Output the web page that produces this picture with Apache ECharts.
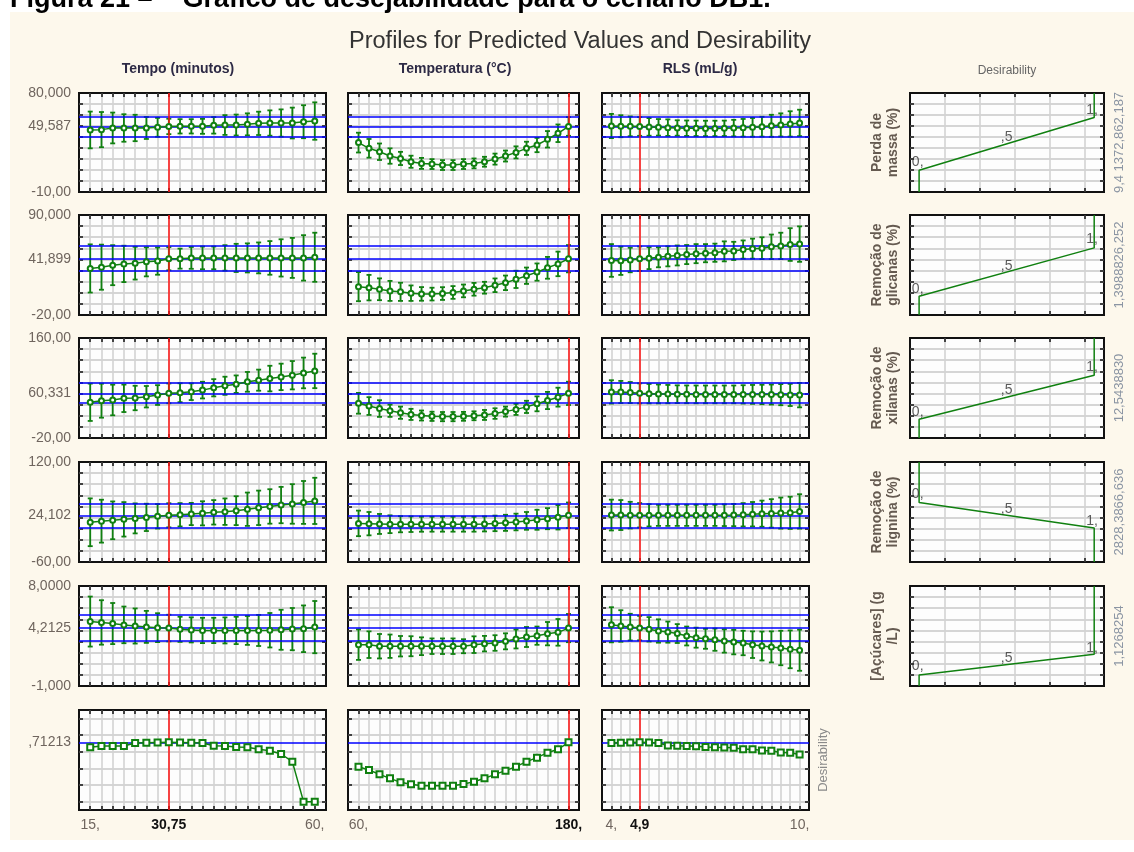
<!DOCTYPE html>
<html>
<head>
<meta charset="utf-8">
<title>Profiles for Predicted Values and Desirability</title>
<script src="https://cdn.jsdelivr.net/npm/echarts@6.0.0/dist/echarts.min.js"></script>
<style>
html, body { margin: 0; padding: 0; background: #fff; }
#grafico { width: 1134px; height: 852px; }
</style>
</head>
<body>
<div id="grafico"></div>
<script>
//************************* dados ******************************//
// níveis dos fatores (eixo x de cada coluna)
var niveisTempo = [15, 17.25, 19.5, 21.75, 24, 26.25, 28.5, 30.75, 33, 35.25, 37.5, 39.75, 42, 44.25, 46.5, 48.75, 51, 53.25, 55.5, 57.75, 60];
var niveisTemp = [60, 66, 72, 78, 84, 90, 96, 102, 108, 114, 120, 126, 132, 138, 144, 150, 156, 162, 168, 174, 180];
var niveisRLS = [4, 4.3, 4.6, 4.9, 5.2, 5.5, 5.8, 6.1, 6.4, 6.7, 7, 7.3, 7.6, 7.9, 8.2, 8.5, 8.8, 9.1, 9.4, 9.7, 10];

var fatores = ['Tempo (minutos)', 'Temperatura (°C)', 'RLS (mL/g)'];
var fatorAtual = [30.75, 180, 4.9];
var valoresX = [[15, 30.75, 60], [60, 180], [4, 4.9, 10]];
var rotulosX = [['15,', '{b|30,75}', '60,'], ['60,', '{b|180,}'], ['4,', '{b|4,9}', '10,']];

// respostas (linhas)
var respostas = ['Perda de\nmassa (%)', 'Remoção de\nglicanas (%)', 'Remoção de\nxilanas (%)', 'Remoção de\nlignina (%)', '[Açúcares] (g\n/L)'];
var yMin = [-10, -20, -20, -60, -1, -0.1];
var yMax = [80, 90, 160, 120, 8, 1.1];
var valoresY = [[-10, 49.587, 80], [-20, 41.899, 90], [-20, 60.331, 160], [-60, 24.102, 120], [-1, 4.2125, 8], [0.71213]];
var rotulosY = [['-10,00', '49,587', '80,000'], ['-20,00', '41,899', '90,000'], ['-20,00', '60,331', '160,00'], ['-60,00', '24,102', '120,00'], ['-1,000', '4,2125', '8,0000'], [',71213']];
var linhasAzuis = [[40.3, 49.587, 58.5], [28.7, 41.899, 56.2], [44.3, 60.331, 79.9], [1.5, 24.102, 44.8], [3.08, 4.2125, 5.4], [0.71213]];
var ticksDesejLinha = [0, 0.2, 0.4, 0.6, 0.8, 1];

// Perda de massa
var perdaTempo = [46.4, 46.7, 48.2, 48.2, 48.2, 48.2, 48.8, 49.587, 49.7, 49.7, 49.7, 50.6, 50.9, 50.9, 51.5, 52.4, 52.7, 52.7, 52.7, 53.9, 54.5];
var perdaTempoErr = [16.7, 16, 14, 12.5, 12, 10, 8.6, 7, 6.5, 6.5, 6.8, 7.5, 9, 9.5, 10, 10.6, 11.5, 12.4, 14, 15, 17];
var perdaTemp = [34.9, 29.7, 26.6, 22.7, 20.5, 17.5, 16, 15.4, 14.5, 14.5, 15.4, 16, 17.5, 19.9, 22.7, 26, 29.7, 32.7, 37.9, 43.4, 49.587];
var perdaTempErr = [9, 8.5, 7.5, 7, 6, 5.5, 5, 4.5, 4.5, 4.5, 4.5, 4.5, 4.5, 5, 5, 5.5, 6, 6.5, 7.5, 8, 8.5];
var perdaRLS = [50, 49.8, 49.7, 49.587, 49.2, 48.8, 48.5, 48.2, 48, 47.9, 47.8, 47.8, 47.9, 48.1, 48.4, 48.8, 49.4, 50.2, 51, 51.9, 52.8];
var perdaRLSErr = [11, 10, 9, 8.5, 8, 7.5, 7.5, 7, 7, 7, 7, 7, 7, 7.5, 8, 8.5, 9, 10, 10.5, 11.5, 12];

// Remoção de glicanas
var glicTempo = [31.2, 32.6, 34.8, 36.2, 37, 38.5, 39.3, 41.899, 42, 42.8, 42.8, 42.8, 42.8, 42.8, 42.8, 42.8, 42.8, 42.8, 42.8, 42.8, 43.5];
var glicTempoErr = [26.5, 24.8, 22, 20, 18, 16, 15, 12.7, 11, 12, 12.5, 12.5, 14, 15.5, 16, 17, 18.5, 20.5, 22, 25, 27];
var glicTemp = [11.2, 10.1, 8.3, 6.5, 5.5, 4, 3.2, 3, 3.6, 4.8, 6.5, 8.3, 10, 12.7, 15.4, 19.2, 23.2, 27.2, 31.9, 36.2, 41.899];
var glicTempErr = [16, 14, 12, 11, 10, 8.5, 7.5, 7, 7, 7, 7, 7, 6.5, 7.5, 8, 9.5, 9, 9.5, 12, 13.5, 15];
var glicRLS = [40, 39.6, 40.5, 41.899, 42.5, 43.5, 44.5, 45.5, 46.5, 47.5, 48, 48.5, 50, 50.5, 52, 53, 53.5, 55, 56, 57.5, 58];
var glicRLSErr = [18, 15.5, 13.5, 13.5, 12, 11, 11, 11, 10.5, 10.5, 10, 10, 11, 10, 10, 11, 12, 13.5, 14.5, 18, 19.5];

// Remoção de xilanas
var xilTempo = [44.3, 47.2, 48.4, 51.4, 52, 54.3, 57.3, 60.331, 61.5, 63.3, 66.2, 70.4, 74, 76.9, 81.1, 84.1, 87, 90, 93, 97.1, 100.7];
var xilTempoErr = [33.6, 30.6, 27.6, 24.7, 22, 19.3, 17.8, 17.8, 17, 15, 15, 15.5, 16.3, 15.7, 17.8, 19, 23, 23.8, 25.5, 27.6, 31];
var xilTemp = [42.5, 37.5, 33, 29, 25.5, 22.5, 20.5, 19, 18.5, 18.5, 19, 20, 21.5, 24, 27.5, 31.5, 36, 41.5, 47.5, 53.5, 60.331];
var xilTempErr = [18.7, 16, 15, 11, 11, 10, 9, 8.3, 8.3, 8.3, 8, 8, 9, 9.5, 9, 10, 11, 13.4, 15.5, 17, 21];
var xilRLS = [63, 62.8, 61.8, 60.331, 59.8, 59.3, 59, 58.8, 58.6, 58.5, 58.5, 58.5, 58.5, 58.5, 58.5, 58.5, 58.3, 58.2, 58, 57.5, 57.2];
var xilRLSErr = [21, 20, 19, 18, 17.5, 17, 16.5, 16, 16, 16, 16, 16, 16, 16, 16.5, 17, 17.5, 18, 19, 20, 22];

// Remoção de lignina
var ligTempo = [11.5, 13.5, 15, 16.8, 18.5, 20.3, 22.2, 24.102, 25, 26.4, 27.6, 29.4, 30.6, 32.4, 35, 37.5, 40, 42.5, 44.5, 47.2, 50];
var ligTempoErr = [43, 38.6, 34, 31, 27, 24.6, 22, 21.7, 21, 20, 21.7, 22, 23.8, 26, 30, 31, 31, 32.7, 35.6, 38.6, 41.6];
var ligTemp = [9.5, 9, 8.5, 8, 8, 8, 8, 8, 8, 8, 8, 8, 8.5, 9.5, 10.5, 12, 14, 16, 18, 20.5, 24.102];
var ligTempErr = [23, 21, 18, 16, 14.5, 14, 13.5, 13.4, 13.4, 13.4, 13.4, 13.4, 13.5, 14, 14.5, 15, 16, 18, 19, 22, 23];
var ligRLS = [24.5, 24.5, 24.3, 24.102, 24, 24, 24, 24, 24, 24, 24, 24, 24.2, 24.5, 25, 26, 27, 27.5, 28, 28.5, 31];
var ligRLSErr = [27.7, 27, 24, 22, 20, 19, 19, 19, 19, 19, 19, 19, 19.5, 20, 21, 22, 23.5, 25.6, 28, 29, 31];

// [Açúcares]
var acuTempo = [4.8, 4.72, 4.62, 4.5, 4.4, 4.32, 4.25, 4.2125, 4.1, 4.05, 4, 4, 4, 4, 4, 4, 4.02, 4.06, 4.12, 4.15, 4.3];
var acuTempoErr = [2.25, 2, 1.85, 1.65, 1.58, 1.44, 1.3, 1.2, 1.13, 1.13, 1.14, 1.14, 1.17, 1.23, 1.3, 1.4, 1.55, 1.8, 1.9, 2.1, 2.35];
var acuTemp = [2.72, 2.72, 2.58, 2.58, 2.58, 2.58, 2.58, 2.58, 2.58, 2.58, 2.58, 2.72, 2.81, 2.87, 3.02, 3.23, 3.41, 3.53, 3.71, 3.83, 4.2125];
var acuTempErr = [1.37, 1.2, 1.1, 1.05, 0.92, 0.9, 0.8, 0.7, 0.7, 0.7, 0.63, 0.75, 0.7, 0.7, 0.72, 0.85, 0.9, 0.82, 1.05, 1.2, 1.27];
var acuRLS = [4.51, 4.4, 4.3, 4.2125, 4.1, 3.95, 3.85, 3.72, 3.5, 3.35, 3.25, 3.17, 3.05, 2.95, 2.87, 2.72, 2.6, 2.52, 2.42, 2.3, 2.22];
var acuRLSErr = [1.58, 1.42, 1.2, 1.1, 1.1, 1.05, 0.95, 0.85, 0.85, 0.9, 0.9, 1, 1.05, 1.1, 1.1, 1.2, 1.3, 1.4, 1.55, 1.7, 1.85];

// Desirability (última linha)
var desTempo = [0.652, 0.668, 0.668, 0.668, 0.705, 0.708, 0.71, 0.71213, 0.71, 0.708, 0.705, 0.672, 0.668, 0.655, 0.652, 0.628, 0.612, 0.572, 0.48, 0, 0];
var desTemp = [0.42, 0.38, 0.328, 0.28, 0.232, 0.208, 0.192, 0.192, 0.192, 0.192, 0.212, 0.24, 0.28, 0.328, 0.372, 0.42, 0.48, 0.528, 0.588, 0.628, 0.71213];
var desRLS = [0.705, 0.708, 0.71, 0.71213, 0.71, 0.705, 0.675, 0.67, 0.668, 0.665, 0.655, 0.652, 0.65, 0.648, 0.63, 0.628, 0.615, 0.612, 0.59, 0.588, 0.565];

// funções de desejabilidade (coluna da direita)
var desejX = [0.26, 0.26, 5.26, 5.26];
var perdaDesej = [0, 1.98, 6.77, 9];
var glicDesej = [0, 1.68, 6.04, 9];
var xilDesej = [0, 1.68, 5.64, 9];
var ligDesej = [9, 5.36, 3.07, 0];
var acuDesej = [0, 1.0, 2.85, 9];
var rotuloDesej = ['0,', ',5', '1,'];
var desejRotX = [0.22, 2.76, 5.2];
var perdaRotY = [2.75, 5.03, 7.47];
var glicRotY = [2.29, 4.42, 6.86];
var xilRotY = [2.34, 4.29, 6.39];
var ligRotY = [6.08, 4.8, 3.69];
var acuRotY = [1.75, 2.5, 3.4];
var desejEscala = ['9,4 1372,862,187', '1,3988826,252', '12,5438830', '2828,3866,636', '1,1268254'];

//************************* layout ******************************//
var esqCol = [79, 348, 602];
var largCol = [247, 231, 207];
var topoLin = [93, 215, 338, 462, 586, 710];
var altLin = [99, 100, 100, 100, 100, 100];
var esqDesej = 910, largDesej = 194;

var verde = '#108010', azul = '#0000ff', vermelho = '#ff1010';
var fonte = '"Liberation Sans", Arial, sans-serif';
var corRotulo = '#6f655e';
var estiloTick = {color: '#111', width: 1.5};
var estiloGrade = {color: '#d2d2d2', width: 1.6};

var niveis = [niveisTempo, niveisTemp, niveisRLS];
var medias = [
    [perdaTempo, perdaTemp, perdaRLS],
    [glicTempo, glicTemp, glicRLS],
    [xilTempo, xilTemp, xilRLS],
    [ligTempo, ligTemp, ligRLS],
    [acuTempo, acuTemp, acuRLS],
    [desTempo, desTemp, desRLS]
];
var erros = [
    [perdaTempoErr, perdaTempErr, perdaRLSErr],
    [glicTempoErr, glicTempErr, glicRLSErr],
    [xilTempoErr, xilTempErr, xilRLSErr],
    [ligTempoErr, ligTempErr, ligRLSErr],
    [acuTempoErr, acuTempErr, acuRLSErr]
];
var desejY = [perdaDesej, glicDesej, xilDesej, ligDesej, acuDesej];
var desejRotY = [perdaRotY, glicRotY, xilRotY, ligRotY, acuRotY];

//************************* montagem ******************************//
var grids = [], xAxes = [], yAxes = [], series = [], textos = [];

// divisões internas de um eixo (sem as bordas)
function divisoes(min, max, n){
    var t = [];
    for(var k=1; k<n; k++){ t.push(min + k*(max-min)/n); }
    return t;
}
function rotulador(vals, tx){
    return function(v){
        for(var k=0; k<vals.length; k++){
            if(Math.abs(v - vals[k]) < 1e-6){ return tx[k]; }
        }
        return '';
    };
}
function eixo(g, pos, min, max, ticks, grade, rotulo){
    return {
        gridIndex: g, type: 'value', position: pos, min: min, max: max,
        axisLine: {show: false, onZero: false},
        axisTick: {inside: true, length: 4, customValues: ticks, lineStyle: estiloTick},
        splitLine: {show: grade, lineStyle: estiloGrade},
        axisLabel: rotulo || {show: false}
    };
}
function novoPainel(left, top, width, height, xr, yr, xt, yt, rotX, rotY){
    var g = grids.length;
    grids.push({
        left: left, top: top, width: width, height: height,
        show: true, backgroundColor: '#fdfdfd', borderColor: '#111', borderWidth: 2,
        outerBoundsMode: 'none'
    });
    xAxes.push(eixo(g, 'bottom', xr[0], xr[1], xt, true, rotX));
    xAxes.push(eixo(g, 'top', xr[0], xr[1], xt, false, null));
    yAxes.push(eixo(g, 'left', yr[0], yr[1], yt, true, rotY));
    yAxes.push(eixo(g, 'right', yr[0], yr[1], yt, true, null));
    return g;
}
// barras de erro
function desenhaErro(params, api){
    var x = api.value(0);
    var a = api.coord([x, api.value(1)]);
    var b = api.coord([x, api.value(2)]);
    var s = {stroke: verde, lineWidth: 1.8};
    return {type: 'group', children: [
        {type: 'line', shape: {x1: a[0], y1: a[1], x2: b[0], y2: b[1]}, style: s},
        {type: 'line', shape: {x1: a[0]-2.5, y1: a[1], x2: a[0]+2.5, y2: a[1]}, style: s},
        {type: 'line', shape: {x1: b[0]-2.5, y1: b[1], x2: b[0]+2.5, y2: b[1]}, style: s}
    ]};
}
function texto(x, y, t, estilo, rot){
    textos.push({
        type: 'text', x: x, y: y, rotation: rot || 0, z: 100, silent: true,
        style: Object.assign({text: t, fontFamily: fonte, align: 'center', verticalAlign: 'middle', fill: corRotulo, fontSize: 14}, estilo)
    });
}

// perfis
for(var r=0; r<6; r++){
    for(var c=0; c<3; c++){
        var xs = niveis[c];
        var passo = xs[1] - xs[0];
        var xr = [xs[0] - passo, xs[xs.length-1] + passo];
        var yr = [yMin[r], yMax[r]];
        var yt = r < 5 ? divisoes(yMin[r], yMax[r], 9) : ticksDesejLinha;
        var rotX = null;
        if(r == 5){
            rotX = {
                show: true, customValues: valoresX[c], margin: 8,
                formatter: rotulador(valoresX[c], rotulosX[c]),
                color: corRotulo, fontSize: 14, fontFamily: fonte,
                rich: {b: {fontWeight: 'bold', color: '#111', fontSize: 14, fontFamily: fonte}}
            };
        }
        var rotY = null;
        if(c == 0){
            rotY = {
                show: true, customValues: valoresY[r], margin: 8,
                formatter: rotulador(valoresY[r], rotulosY[r]),
                color: corRotulo, fontSize: 14, fontFamily: fonte
            };
        }
        var g = novoPainel(esqCol[c], topoLin[r], largCol[c], altLin[r], xr, yr, divisoes(xr[0], xr[1], 22), yt, rotX, rotY);

        var pts = [], barras = [];
        for(var i=0; i<xs.length; i++){
            pts.push([xs[i], medias[r][c][i]]);
            if(r < 5){ barras.push([xs[i], medias[r][c][i] - erros[r][c][i], medias[r][c][i] + erros[r][c][i]]); }
        }
        var marcas = linhasAzuis[r].map(function(v){ return {yAxis: v}; });
        marcas.push({xAxis: fatorAtual[c], lineStyle: {color: vermelho}});

        if(r < 5){
            series.push({
                type: 'custom', xAxisIndex: 2*g, yAxisIndex: 2*g, data: barras,
                encode: {x: 0, y: [1, 2]}, renderItem: desenhaErro, silent: true, z: 4
            });
        }
        series.push({
            type: 'line', xAxisIndex: 2*g, yAxisIndex: 2*g, data: pts,
            symbol: r < 5 ? 'emptyCircle' : 'emptyRect', symbolSize: r < 5 ? 5 : 6,
            lineStyle: {color: verde, width: 1.5}, itemStyle: {color: verde, borderWidth: 1.5},
            silent: true, z: 5,
            markLine: {
                silent: true, symbol: ['none', 'none'], label: {show: false},
                lineStyle: {color: azul, width: 1.5, type: 'solid'},
                emphasis: {disabled: true}, data: marcas
            }
        });
    }
}

// funções de desejabilidade
for(var d=0; d<5; d++){
    var gd = novoPainel(esqDesej, topoLin[d], largDesej, altLin[d], [0, 5.54], [0, 9], [1, 2, 3, 4, 5], divisoes(0, 9, 9), null, null);
    series.push({
        type: 'line', xAxisIndex: 2*gd, yAxisIndex: 2*gd, silent: true, symbol: 'none', z: 5,
        lineStyle: {color: verde, width: 1.5},
        data: desejX.map(function(x, i){ return [x, desejY[d][i]]; })
    });
    series.push({
        type: 'scatter', xAxisIndex: 2*gd, yAxisIndex: 2*gd, silent: true, symbolSize: 1, z: 6,
        itemStyle: {color: 'rgba(0,0,0,0)'},
        label: {show: true, position: 'inside', color: '#333', fontSize: 14, fontFamily: fonte,
            formatter: function(p){ return p.value[2]; }},
        data: desejRotX.map(function(x, i){ return [x, desejRotY[d][i], rotuloDesej[i]]; })
    });
    var cy = topoLin[d] + altLin[d]/2;
    texto(885, cy, respostas[d], {fontWeight: 'bold', fill: '#655a50', lineHeight: 16}, Math.PI/2);
    texto(1119, cy, desejEscala[d], {fill: '#8b95a3', fontSize: 13}, Math.PI/2);
}

// textos
texto(10, 0, 'Figura 21 –    Gráfico de desejabilidade para o cenário DB1.', {align: 'left', fontWeight: 'bold', fontSize: 27, fill: '#000'});
texto(580, 42, 'Profiles for Predicted Values and Desirability', {fontSize: 23.5, fill: '#333'});
var cabecX = [178, 455, 700];
for(var h=0; h<3; h++){
    texto(cabecX[h], 69, fatores[h], {fontWeight: 'bold', fill: '#2d2a45'});
}
texto(1007, 71, 'Desirability', {fontSize: 12, fill: '#666'});
texto(823, 760, 'Desirability', {fontSize: 13, fill: '#8a8a8a'}, Math.PI/2);

var fundo = {type: 'rect', z: -10, silent: true, shape: {x: 10, y: 12, width: 1124, height: 828}, style: {fill: '#fdf8ec'}};

var myChart = echarts.init(document.getElementById('grafico'));
myChart.setOption({
    animation: false,
    backgroundColor: '#ffffff',
    textStyle: {fontFamily: fonte},
    grid: grids,
    xAxis: xAxes,
    yAxis: yAxes,
    series: series,
    graphic: {elements: [fundo].concat(textos)}
});
window.onresize = myChart.resize;
</script>
</body>
</html>
